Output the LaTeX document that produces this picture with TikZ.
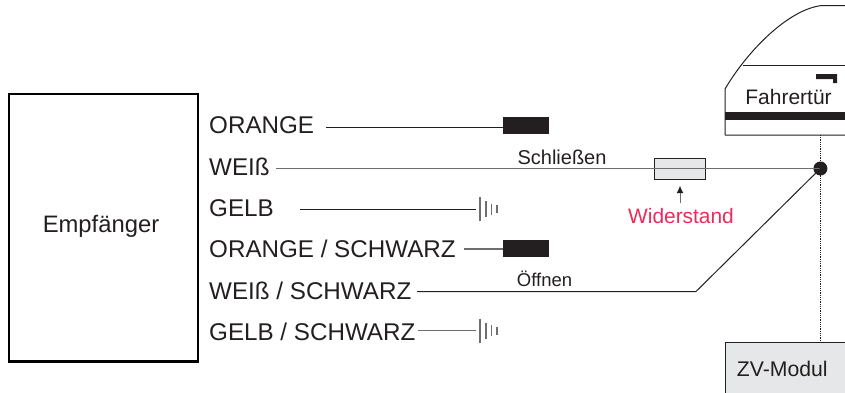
\documentclass[tikz,border=0pt]{standalone}
\usepackage{fontspec}
\usetikzlibrary{arrows.meta}
\setmainfont{Liberation Sans}
\definecolor{ink}{HTML}{231F20}
\definecolor{boxgray}{HTML}{E6E7E8}
\definecolor{wgray}{HTML}{6D6E71}
\definecolor{redlabel}{HTML}{EE2A5A}
\tikzset{
  wirelabel/.style={anchor=base west,inner sep=0pt,font=\fontsize{24.2}{28}\selectfont,text=ink},
  midlabel/.style={anchor=base,inner sep=0pt,text=ink},
  wire/.style={draw=ink,line width=1pt},
  graywire/.style={draw=wgray,line width=1.3pt},
  plug/.style={fill=ink,draw=none,minimum width=46pt,minimum height=17pt,inner sep=0pt,outer sep=0pt},
  groundbar/.style={draw=wgray,line width=1.1pt},
  part/.style={draw=ink,line width=1pt},
  greybox/.style={draw=ink,fill=boxgray,line width=1pt,inner sep=0pt,outer sep=0pt}
}
\begin{document}
\begin{tikzpicture}[x=1pt,y=-1pt]
\useasboundingbox (0,0) rectangle (845,392);
% receiver
\node[draw=black,line width=2.8pt,minimum width=189pt,minimum height=267.5pt,inner sep=0pt,outer sep=0pt,anchor=north west] (emp) at (8.9,94) {};
\node[midlabel,font=\fontsize{23.8}{28}\selectfont] (emptext) at (101,232) {Empfänger};
% labels
\node[wirelabel] (l1) at (209,133.3) {ORANGE};
\node[wirelabel] (l2) at (209,175) {WEIß};
\node[wirelabel] (l3) at (209,216) {GELB};
\node[wirelabel] (l4) at (209,257.3) {ORANGE / SCHWARZ};
\node[wirelabel] (l5) at (209,299) {WEIß / SCHWARZ};
\node[wirelabel] (l6) at (209,340) {GELB / SCHWARZ};
% free ends
\coordinate (s1) at (326,127);
\coordinate (s2) at (276,168.5);
\coordinate (s3) at (300,209);
\coordinate (s4) at (464,249);
\coordinate (s5) at (417,291.5);
\coordinate (s6) at (418,330.5);
\coordinate (bend) at (696,291.5);
% plugs
\node[plug,anchor=north west] (p1) at (503,117) {};
\node[plug,anchor=north west] (p2) at (503,240) {};
% grounds
\coordinate (g1) at (476,209);
\coordinate (g2) at (476,330.5);
\foreach \g in {g1,g2}{
  \draw[groundbar,line width=1.4pt] ([shift={(4,-12)}]\g) -- ([shift={(4,12)}]\g);
  \draw[groundbar] ([shift={(10,-8)}]\g) -- ([shift={(10,8)}]\g);
  \draw[groundbar] ([shift={(15.5,-5.5)}]\g) -- ([shift={(15.5,5.5)}]\g);
  \draw[groundbar] ([shift={(21,-4)}]\g) -- ([shift={(21,4)}]\g);
}
% door
\coordinate (d1) at (845,135);
\coordinate (d2) at (725,135);
\coordinate (d3) at (725,89);
\coordinate (d4) at (822,5.5);
\coordinate (d5) at (845,5.5);
\draw[part,line join=round] (d1) -- (d2) -- (d3) .. controls (748,50) and (789,9) .. (d4) -- (d5);
\draw[part] (743,65.5) -- (845,65.5);
\fill[ink] (725,112) rectangle (845,120);
\fill[ink] (816,74) -- (837,74) -- (837,83) -- (833,83) -- (833,79) -- (816,79) -- cycle;
\node[midlabel,font=\fontsize{21}{25}\selectfont] (door) at (788.5,104) {Fahrertür};
% module
\node[greybox,anchor=north west,minimum width=125pt,minimum height=55pt] (zv) at (725.5,342) {};
\node[midlabel,font=\fontsize{21.2}{25}\selectfont] (zvtext) at (782.3,376) {ZV-Modul};
% dot and dotted line
\draw[ink,densely dotted,line width=0.8pt] (820.5,135) -- (820.5,342);
\node[circle,fill=ink,draw=none,minimum size=14pt,inner sep=0pt] (dot) at (820.4,168.5) {};
% fuse
\node[greybox,minimum width=51pt,minimum height=21pt] (fuse) at (680,168.5) {};
% wires
\draw[wire] (s1) -- (p1.west |- s1);
\draw[graywire] (s2) -- (dot.center);
\draw[wire] (s3) -- (g1);
\draw[graywire] (s4) -- (p2.west |- s4);
\draw[wire] (s5) -- (bend) -- (dot.center);
\draw[graywire] (s6) -- (g2);
% labels on wires
\node[midlabel,font=\fontsize{20}{24}\selectfont] (sch) at (562,164) {Schließen};
\node[midlabel,font=\fontsize{18.5}{22}\selectfont] (off) at (544.5,286) {Öffnen};
\node[anchor=base,inner sep=0pt,font=\fontsize{20.9}{25}\selectfont,text=redlabel] (wid) at (681,223.3) {Widerstand};
\coordinate (a0) at (680,203);
\coordinate (a1) at (680,185.7);
\draw[wgray,line width=1pt,-{Latex[length=7.5pt,width=7pt,color=ink]}] (a0) -- (a1);
\end{tikzpicture}
\end{document}
